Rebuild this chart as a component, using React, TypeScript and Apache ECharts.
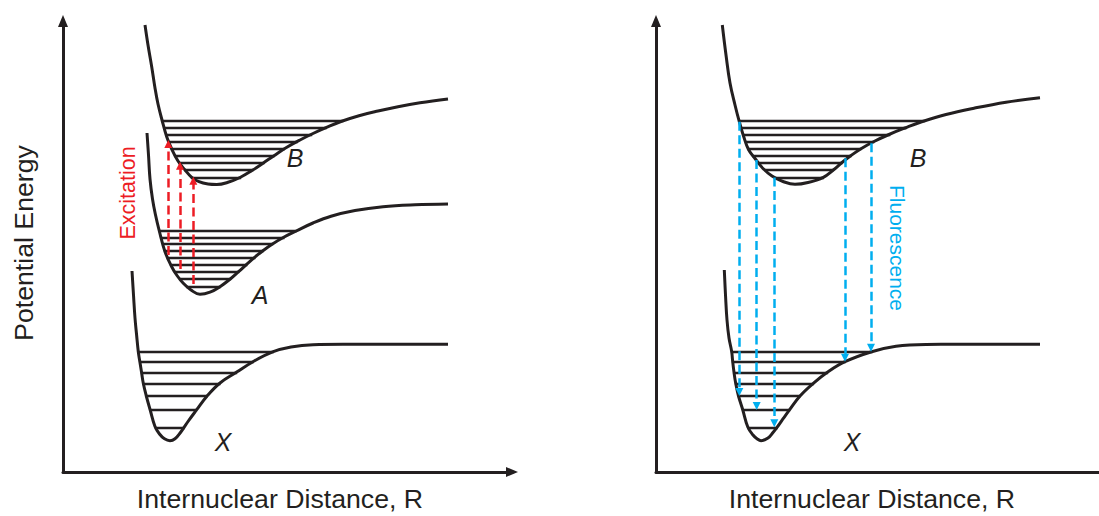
import React, { useEffect, useRef } from "react";
import * as echarts from "echarts";

type Pt = [number, number];

// Units: pixels to the right of each panel's energy axis, pixels above its distance axis.
const leftBCurve: Pt[] = [
  [82, 447], [85, 427], [88.7, 405.3], [92, 384], [95, 368], [99, 352], [103.7, 335.3], [108.7, 323],
  [115, 311], [122, 302], [128.7, 294.7], [136, 290.3], [145, 288], [153.7, 287.5], [165, 289.7],
  [177, 294.5], [189, 301.5], [200, 308.8], [211, 316.3], [223, 324.2], [237, 332], [250, 338.5],
  [263, 344.3], [278, 350.5], [296, 356.3], [315, 361], [335, 365.3], [357, 369.2], [385, 373],
];
const leftACurve: Pt[] = [
  [84, 339], [85.5, 317], [87, 293], [89.5, 273], [92.3, 258], [96.3, 241], [102, 220.3], [108.7, 205.3],
  [114, 196.5], [120.3, 188.7], [128, 182], [137, 177.7], [147, 179.8], [157, 185.3], [167.3, 193],
  [175.6, 200.3], [183.6, 207.7], [191.6, 214.7], [199.9, 221.3], [209.5, 228], [220.7, 234.7],
  [233.3, 241], [250, 249], [268, 255.8], [292, 261.5], [320, 265.3], [352, 267.2], [385, 268],
];
const leftXCurve: Pt[] = [
  [69, 201], [70.5, 177], [72, 154], [73.6, 137], [75.3, 120.3], [76.9, 110], [78.5, 100], [80.3, 88.7],
  [83.3, 76], [87.2, 62], [92, 45.5], [96.5, 38], [101.5, 33.2], [107, 31.3], [112, 33.2], [117.5, 39.5],
  [125, 50.5], [133.7, 62.3], [143.7, 75.5], [157, 89], [173.7, 99.9], [190, 110.3], [210.3, 120.3],
  [228, 125], [250, 127.3], [280, 127.7], [385, 127.7],
];
const rightBCurve: Pt[] = [
  [66.3, 447], [70, 417], [74, 389], [79, 367], [83.3, 350.3], [87.5, 336], [92.5, 322.5], [99, 313.5],
  [107, 303.5], [116, 296], [127, 290.5], [139, 287.7], [152, 289.5], [167.3, 294.7], [177.3, 302],
  [186, 309.5], [195, 316.5], [205, 323.3], [218, 330.5], [233, 337.5], [249, 344], [265, 350],
  [290, 357.5], [318, 363.8], [350, 369.8], [384, 374.3],
];
const rightXCurve: Pt[] = [
  [68.3, 202], [69.5, 177], [71, 152], [73, 134], [75.7, 120.3], [76.7, 110.3], [78, 99.7], [79.7, 88.7],
  [82.5, 76], [86.8, 62], [91.8, 45], [97, 37], [101, 33.3], [105, 31.3], [112, 34], [117, 39.5],
  [122, 46], [127.5, 53.8], [133.3, 61.8], [144, 76], [157.3, 88.7], [171, 99.5], [189, 110.3],
  [215.7, 120.3], [240, 125.8], [270, 127.6], [300, 127.7], [384, 127.7],
];

// Vibrational level energies
const bLevels = [351, 344.3, 337.7, 330.3, 323, 316.3, 309.3, 302, 294.7];
const aLevels = [241, 234.7, 228, 221.3, 214.7, 207.7, 200.3, 193, 185.3];
const xLevels = [120.3, 110.3, 99.7, 88.7, 76, 62, 44.7];

// Excitation arrows (left panel): x, from, to
const excitationX = [105.3, 117, 130.3];
const excitationFrom = [217, 203, 188];
const excitationTo = [332, 310.3, 295.3];

// Fluorescence arrows (right panel)
const fluorescenceX = [83.3, 100.7, 118.3, 189, 215];
const fluorescenceFrom = [350.3, 312, 294.5, 313.7, 328.7];
const fluorescenceTo = [76, 62, 44.7, 110.3, 120.3];

const axisTitleX = "Internuclear Distance, R";
const axisTitleY = "Potential Energy";

const BLACK = "#231f20";
const RED = "#ed1c24";
const BLUE = "#00aeef";
const FONT = '"Liberation Sans", Arial, Helvetica, sans-serif';

function levelSpan(curve: Pt[], y: number): [number, number] {
  const xs: number[] = [];
  for (let i = 0; i < curve.length - 1; i++) {
    const [x0, y0] = curve[i];
    const [x1, y1] = curve[i + 1];
    if (y0 === y1) continue;
    if ((y0 - y) * (y1 - y) <= 0) {
      const x = x0 + ((y - y0) / (y1 - y0)) * (x1 - x0);
      if (!xs.length || Math.abs(x - xs[xs.length - 1]) > 0.5) xs.push(x);
    }
  }
  return [xs[0], xs[1]];
}

function levelData(curve: Pt[], levels: number[]) {
  return levels.map((y) => {
    const [a, b] = levelSpan(curve, y);
    return { coords: [[a - 0.8, y], [b + 0.8, y]] };
  });
}

const HEAD = 8;
function arrowData(xs: number[], from: number[], to: number[]) {
  return xs.map((x, i) => {
    const dir = to[i] > from[i] ? 1 : -1;
    return { coords: [[x, from[i]], [x, to[i] - (dir * HEAD) / 2]] };
  });
}

function curveSeries(data: Pt[], gi: number) {
  return {
    type: "line",
    xAxisIndex: gi,
    yAxisIndex: gi,
    data,
    smooth: 0.4,
    showSymbol: false,
    silent: true,
    lineStyle: { color: BLACK, width: 3 },
    z: 3,
  };
}

function levelSeries(curve: Pt[], levels: number[], gi: number) {
  return {
    type: "lines",
    coordinateSystem: "cartesian2d",
    xAxisIndex: gi,
    yAxisIndex: gi,
    silent: true,
    symbol: ["none", "none"],
    lineStyle: { color: BLACK, width: 2.4, opacity: 1 },
    data: levelData(curve, levels),
    z: 2,
  };
}

function arrowSeries(xs: number[], from: number[], to: number[], color: string, gi: number) {
  return {
    type: "lines",
    coordinateSystem: "cartesian2d",
    xAxisIndex: gi,
    yAxisIndex: gi,
    silent: true,
    symbol: ["none", "triangle"],
    symbolSize: HEAD,
    lineStyle: { color, width: 2.5, type: [9, 4.5], opacity: 1 },
    itemStyle: { color },
    data: arrowData(xs, from, to),
    z: 4,
  };
}

function axis(gi: number, max: number) {
  return {
    gridIndex: gi,
    type: "value",
    min: 0,
    max,
    axisLine: {
      show: true,
      onZero: false,
      symbol: ["none", "triangle"],
      symbolSize: [10, 12],
      lineStyle: { color: BLACK, width: 3 },
    },
    axisTick: { show: false },
    axisLabel: { show: false },
    splitLine: { show: false },
  };
}

function txt(text: string, x: number, y: number, size: number, color: string, opts: any = {}) {
  return {
    type: "text",
    x,
    y,
    rotation: opts.rotation || 0,
    silent: true,
    style: {
      text,
      x: 0,
      y: 0,
      fill: color,
      fontSize: size,
      fontFamily: FONT,
      fontStyle: opts.italic ? "italic" : "normal",
      align: "center",
      verticalAlign: "middle",
    },
  };
}

export default function App() {
  const ref = useRef<HTMLDivElement>(null);
  useEffect(() => {
    if (!ref.current) return;
    const chart = echarts.init(ref.current, null, { renderer: "svg" });
    chart.setOption({
      animation: false,
      backgroundColor: "#ffffff",
      grid: [
        { left: 63, top: 21, width: 449, height: 451, containLabel: false, outerBoundsMode: "none" },
        { left: 656, top: 21, width: 449, height: 451, containLabel: false, outerBoundsMode: "none" },
      ],
      xAxis: [axis(0, 449), axis(1, 449)],
      yAxis: [axis(0, 451), axis(1, 451)],
      series: [
        curveSeries(leftBCurve, 0),
        curveSeries(leftACurve, 0),
        curveSeries(leftXCurve, 0),
        levelSeries(leftBCurve, bLevels, 0),
        levelSeries(leftACurve, aLevels, 0),
        levelSeries(leftXCurve, xLevels, 0),
        arrowSeries(excitationX, excitationFrom, excitationTo, RED, 0),
        curveSeries(rightBCurve, 1),
        curveSeries(rightXCurve, 1),
        levelSeries(rightBCurve, bLevels, 1),
        levelSeries(rightXCurve, xLevels, 1),
        arrowSeries(fluorescenceX, fluorescenceFrom, fluorescenceTo, BLUE, 1),
      ],
      graphic: [
        txt(axisTitleY, 24, 243, 26.7, BLACK, { rotation: Math.PI / 2 }),
        txt(axisTitleX, 280, 499, 26.7, BLACK),
        txt(axisTitleX, 872, 499, 26.7, BLACK),
        txt("Excitation", 128, 193, 21.5, RED, { rotation: Math.PI / 2 }),
        txt("Fluorescence", 897, 248, 21, BLUE, { rotation: -Math.PI / 2 }),
        txt("B", 295, 158, 25, BLACK, { italic: true }),
        txt("A", 260, 295, 25, BLACK, { italic: true }),
        txt("X", 223, 442, 25, BLACK, { italic: true }),
        txt("B", 918, 158, 25, BLACK, { italic: true }),
        txt("X", 852, 442, 25, BLACK, { italic: true }),
      ],
    });
    return () => chart.dispose();
  }, []);
  return (
    <div
      ref={ref}
      style={{ position: "fixed", left: 0, top: 0, width: 1099, height: 516, background: "#fff" }}
    />
  );
}
